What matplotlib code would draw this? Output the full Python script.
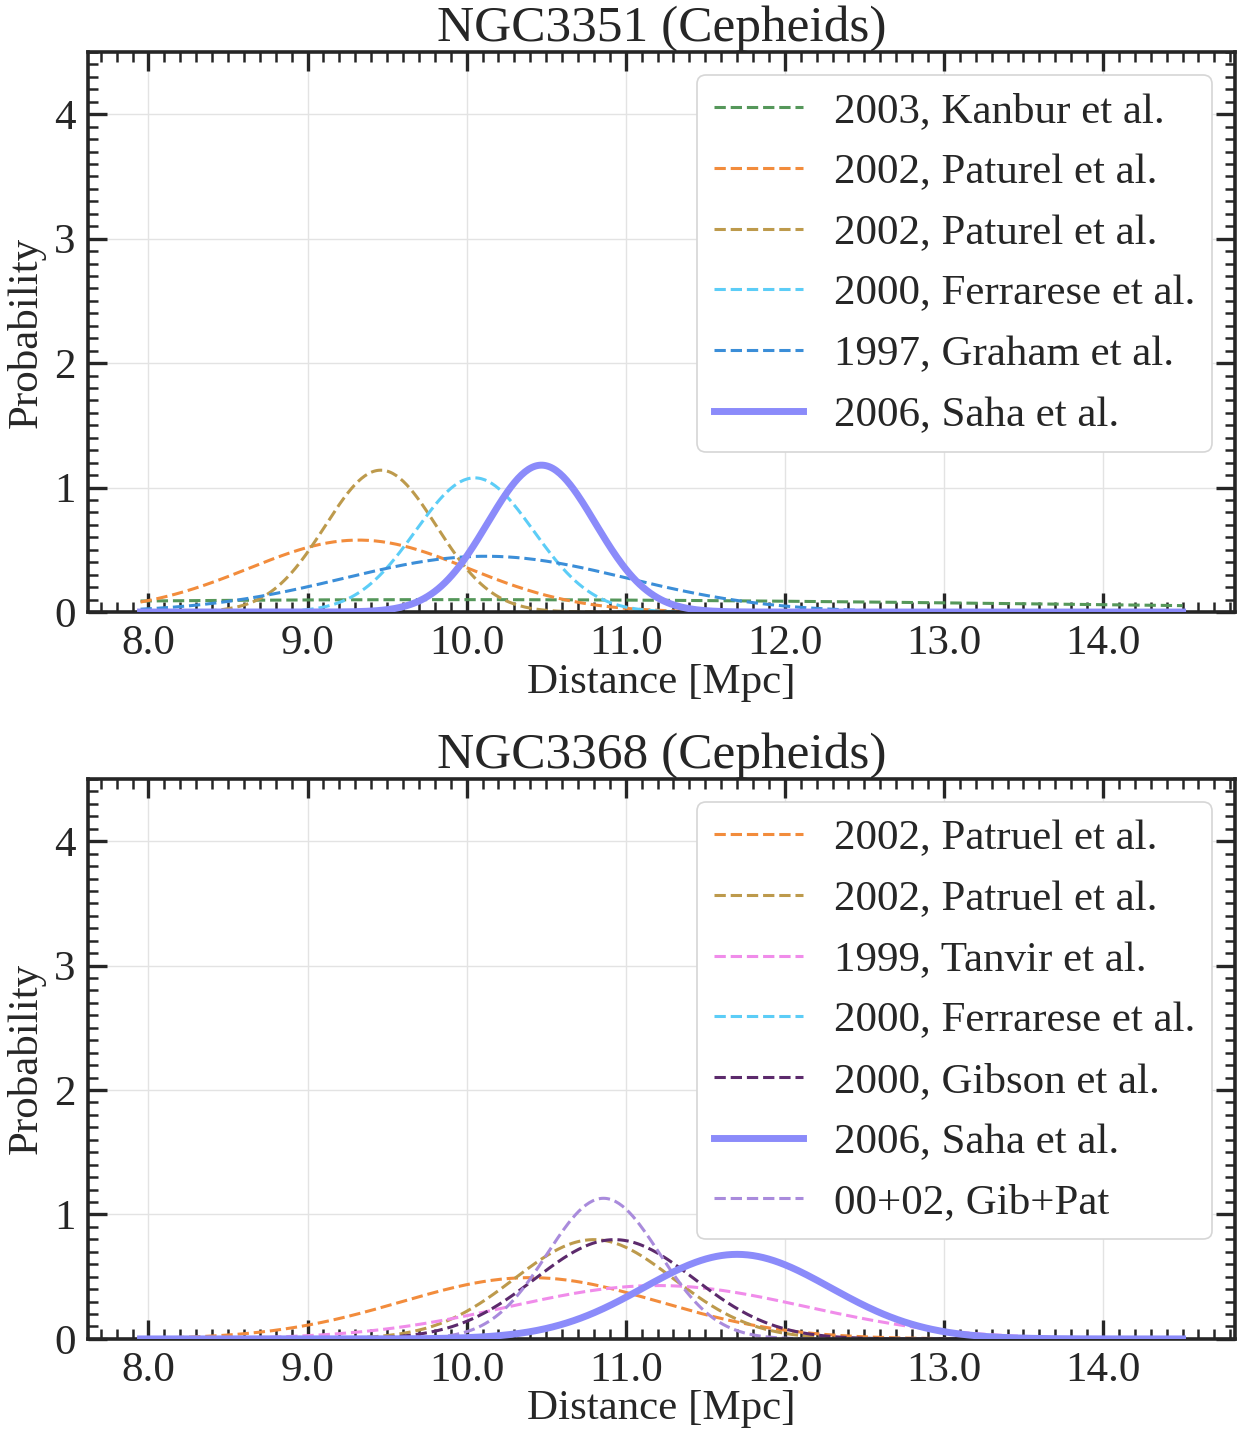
import numpy as np
import matplotlib
matplotlib.use("Agg")
import matplotlib.pyplot as plt
from matplotlib.ticker import MultipleLocator, FormatStrFormatter

plt.rcParams["font.family"] = ["Liberation Serif", "DejaVu Serif"]
plt.rcParams["mathtext.fontset"] = "stix"

INK = "#262626"

# Distance grid [Mpc]
x_min, x_max = 7.95, 14.5

# NGC3351 Cepheid distance estimates: mean and sigma [Mpc]
n3351_labels = ["2003, Kanbur et al.", "2002, Paturel et al.", "2002, Paturel et al.",
                "2000, Ferrarese et al.", "1997, Graham et al.", "2006, Saha et al."]
n3351_mean = [9.90, 9.32, 9.46, 10.05, 10.12, 10.47]
n3351_sigma = [4.00, 0.69, 0.35, 0.37, 0.89, 0.338]
n3351_colors = ["#55975a", "#f28c3c", "#bd9a4c", "#5ccdf7", "#3b8ed8", "#8b8bfa"]
n3351_solid = [False, False, False, False, False, True]

# NGC3368 Cepheid distance estimates: mean and sigma [Mpc]
n3368_labels = ["2002, Patruel et al.", "2002, Patruel et al.", "1999, Tanvir et al.",
                "2000, Ferrarese et al.", "2000, Gibson et al.", "2006, Saha et al.",
                "00+02, Gib+Pat"]
n3368_mean = [10.40, 10.80, 11.20, None, 10.93, 11.70, 10.86]
n3368_sigma = [0.81, 0.50, 0.93, None, 0.50, 0.587, 0.353]
n3368_colors = ["#f28c3c", "#bd9a4c", "#f08cea", "#5ccdf7", "#5c2a6c", "#8b8bfa", "#a98bdc"]
n3368_solid = [False, False, False, False, False, True, False]

titles = ["NGC3351 (Cepheids)", "NGC3368 (Cepheids)"]

DASH_LW = 2.2
DASHES = (3.7, 1.6)


def gauss(x, mu, sig):
    return np.exp(-0.5 * ((x - mu) / sig) ** 2) / (sig * np.sqrt(2 * np.pi))


def style_axes(ax):
    ax.set_xlim(7.62, 14.83)
    ax.set_ylim(0, 4.5)
    ax.xaxis.set_major_locator(MultipleLocator(1.0))
    ax.xaxis.set_minor_locator(MultipleLocator(0.1))
    ax.yaxis.set_major_locator(MultipleLocator(1.0))
    ax.yaxis.set_minor_locator(MultipleLocator(0.1))
    ax.xaxis.set_major_formatter(FormatStrFormatter("%.1f"))
    ax.tick_params(which="both", direction="in", top=True, right=True, colors=INK)
    ax.tick_params(which="major", length=14, width=2.4, labelsize=31, pad=9)
    ax.tick_params(which="minor", length=7, width=1.8)
    for s in ax.spines.values():
        s.set_linewidth(2.6)
        s.set_color(INK)
    ax.grid(True, which="major", color="#e3e3e3", linewidth=1.0)
    ax.set_axisbelow(True)
    ax.set_xlabel("Distance [Mpc]", fontsize=31, color=INK, labelpad=0)
    ax.set_ylabel("Probability", fontsize=31, color=INK, labelpad=6)


fig = plt.figure(figsize=(12.4, 14.34), dpi=100)
ax1 = fig.add_axes([0.071, 0.5732, 0.925, 0.3905])
ax2 = fig.add_axes([0.071, 0.0663, 0.925, 0.3905])

x = np.linspace(x_min, x_max, 600)

panels = [
    (ax1, n3351_labels, n3351_mean, n3351_sigma, n3351_colors, n3351_solid),
    (ax2, n3368_labels, n3368_mean, n3368_sigma, n3368_colors, n3368_solid),
]

for (ax, labels, means, sigmas, colors, solid), title in zip(panels, titles):
    style_axes(ax)
    for lab, mu, sig, col, sol in zip(labels, means, sigmas, colors, solid):
        if mu is None:
            # legend entry only (no estimate plotted for this galaxy)
            ax.plot([], [], color=col, lw=DASH_LW, ls="--", dashes=DASHES, label=lab)
            continue
        y = gauss(x, mu, sig)
        if sol:
            ax.plot(x, y, color=col, lw=5.0, ls="-", label=lab, zorder=3)
        else:
            ax.plot(x, y, color=col, lw=DASH_LW, ls="--", dashes=DASHES, label=lab, zorder=2)
    ax.set_title(title, fontsize=37, color=INK, pad=5)
    leg = ax.legend(loc="upper right", fontsize=31, handlelength=2.05, handletextpad=0.72,
                    labelspacing=0.5, borderpad=0.4, borderaxespad=0.0,
                    framealpha=1.0, fancybox=True, bbox_to_anchor=(0.980, 0.959))
    leg.get_frame().set_edgecolor("#d6d6d6")
    leg.get_frame().set_linewidth(1.2)
    for t in leg.get_texts():
        t.set_color(INK)

fig.savefig("out.png", dpi=100)
